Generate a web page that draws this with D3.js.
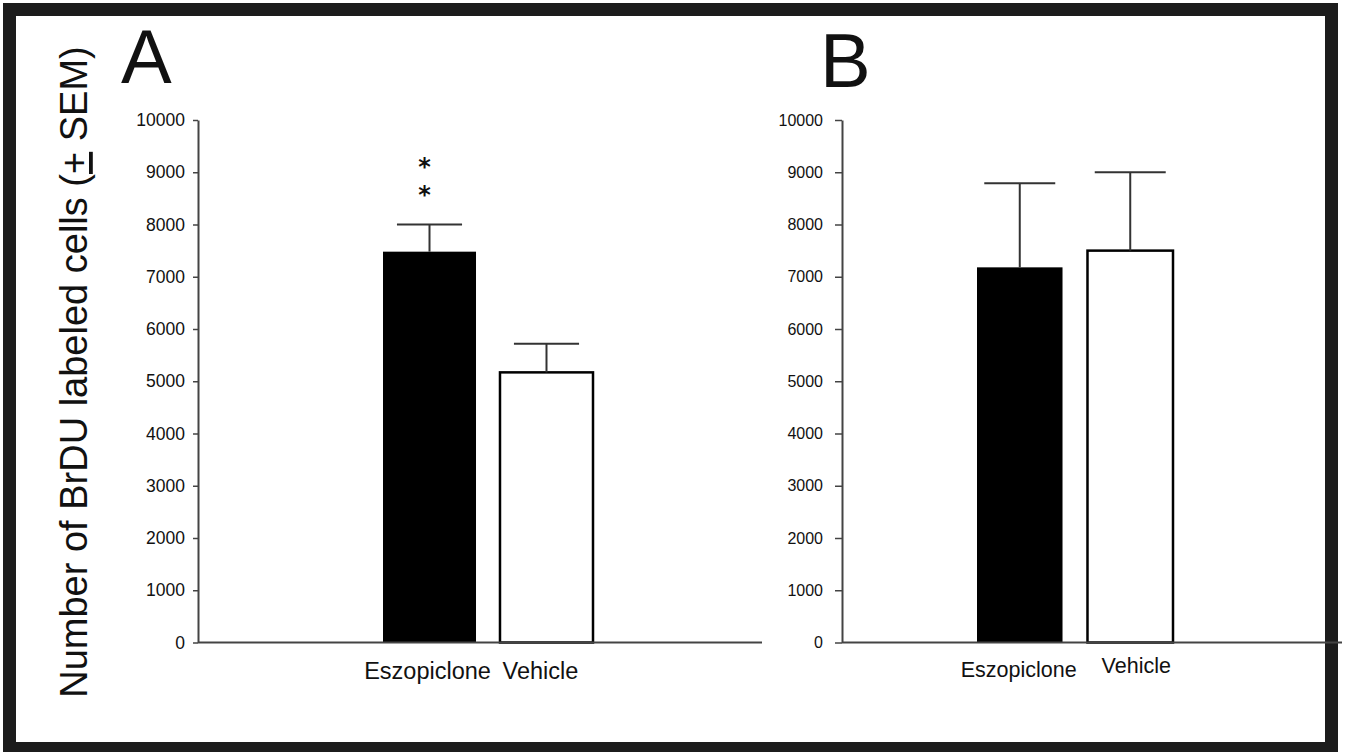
<!DOCTYPE html>
<html>
<head>
<meta charset="utf-8">
<script src="https://cdn.jsdelivr.net/npm/d3@7"></script>
<style>
    body { margin: 0; background: #fff; }
    svg { display: block; }
    text { font-family: "Liberation Sans", Arial, sans-serif; fill: #111; }
</style>
</head>
<body>
<svg id="vis" width="1345" height="752"></svg>
<script>
// data
var categories = ["Eszopiclone", "Vehicle"];
var meanA = [7480, 5170];
var semA = [520, 550];
var meanB = [7180, 7500];
var semB = [1610, 1500];
var yTicks = [0, 1000, 2000, 3000, 4000, 5000, 6000, 7000, 8000, 9000, 10000];
var barFills = ["#000000", "#ffffff"];

var svg = d3.select("#vis");

// outer frame
svg.append("rect")
    .attr("x", 9.5)
    .attr("y", 9.5)
    .attr("width", 1322)
    .attr("height", 739)
    .attr("fill", "#fff")
    .attr("stroke", "#1c1c1c")
    .attr("stroke-width", 13);

// y title
svg.append("text")
    .attr("transform", "translate(87,372) rotate(-90)")
    .attr("text-anchor", "middle")
    .style("font-size", "38px")
    .call(function (t) {
        t.append("tspan").text("Number of BrDU labeled cells (");
        t.append("tspan").style("text-decoration", "underline").text("+");
        t.append("tspan").text(" SEM)");
    });

function drawPanel(p) {
    var y = d3.scaleLinear().domain([0, 10000]).range([642.5, 120]);
    var x = d3.scaleBand().domain(categories).range(p.barRange).paddingInner(p.pad).paddingOuter(0);

    var g = svg.append("g");

    // panel letter
    g.append("text")
        .attr("x", p.letterX)
        .attr("y", p.letterY)
        .style("font-size", "76px")
        .text(p.letter);

    // bars
    g.selectAll(".bar")
        .data(p.mean)
        .enter()
        .append("rect")
        .attr("class", "bar")
        .attr("x", function (d, i) { return x(categories[i]); })
        .attr("y", function (d) { return y(d); })
        .attr("width", x.bandwidth())
        .attr("height", function (d) { return y(0) - y(d); })
        .attr("fill", function (d, i) { return barFills[i]; })
        .attr("stroke", "#000")
        .attr("stroke-width", function (d, i) { return i === 1 ? 2.5 : 0; });

    // error bars
    var capW = x.bandwidth() * p.cap;
    p.mean.forEach(function (m, i) {
        var cx = x(categories[i]) + x.bandwidth() / 2;
        g.append("line")
            .attr("x1", cx).attr("x2", cx)
            .attr("y1", y(m)).attr("y2", y(m + p.sem[i]))
            .attr("stroke", "#333").attr("stroke-width", 2);
        g.append("line")
            .attr("x1", cx - capW / 2).attr("x2", cx + capW / 2)
            .attr("y1", y(m + p.sem[i])).attr("y2", y(m + p.sem[i]))
            .attr("stroke", "#333").attr("stroke-width", 2);
    });

    // y axis
    var ax = g.append("g")
        .attr("transform", "translate(" + p.axisX + ",0)")
        .call(d3.axisLeft(y)
            .tickValues(yTicks)
            .tickFormat(d3.format("d"))
            .tickSize(p.tickSize)
            .tickSizeOuter(0)
            .tickPadding(p.tickPad));
    ax.select(".domain").attr("stroke", "#444").attr("stroke-width", 2);
    ax.selectAll(".tick line").attr("stroke", "#444").attr("stroke-width", 1.5);
    ax.selectAll(".tick text")
        .style("font-size", p.tickFont)
        .style("font-family", "'Liberation Sans', Arial, sans-serif")
        .attr("fill", "#111");

    // baseline
    g.append("line")
        .attr("x1", p.axisX).attr("x2", p.lineEnd)
        .attr("y1", y(0)).attr("y2", y(0))
        .attr("stroke", "#444").attr("stroke-width", 2);

    // category labels
    g.selectAll(".cat")
        .data(categories)
        .enter()
        .append("text")
        .attr("class", "cat")
        .attr("x", function (d, i) { return x(d) + x.bandwidth() / 2 + p.labelDx[i]; })
        .attr("y", function (d, i) { return p.labelY[i]; })
        .attr("text-anchor", "middle")
        .style("font-size", p.catFont)
        .text(function (d) { return d; });

    return { x: x, y: y, g: g };
}

var A = drawPanel({
    letter: "A", letterX: 121, letterY: 83,
    mean: meanA, sem: semA,
    barRange: [383, 593], pad: 0.205, cap: 0.7,
    axisX: 198, lineEnd: 762, tickSize: 5, tickPad: 8, tickFont: "17.5px",
    labelDx: [-2, -6], labelY: [679, 679], catFont: "23.5px"
});

var B = drawPanel({
    letter: "B", letterX: 820, letterY: 87,
    mean: meanB, sem: semB,
    barRange: [977, 1173], pad: 0.226, cap: 0.83,
    axisX: 842, lineEnd: 1342, tickSize: 7, tickPad: 12, tickFont: "16px",
    labelDx: [-1, 6], labelY: [677, 673], catFont: "21.5px"
});

// significance marks
var sx = A.x(categories[0]) + A.x.bandwidth() / 2 - 5;
[175, 203].forEach(function (yy) {
    A.g.append("text")
        .attr("x", sx)
        .attr("y", yy)
        .attr("text-anchor", "middle")
        .style("font-family", "'DejaVu Sans', sans-serif")
        .style("font-size", "24px")
        .style("font-weight", "bold")
        .text("*");
});
</script>
</body>
</html>
